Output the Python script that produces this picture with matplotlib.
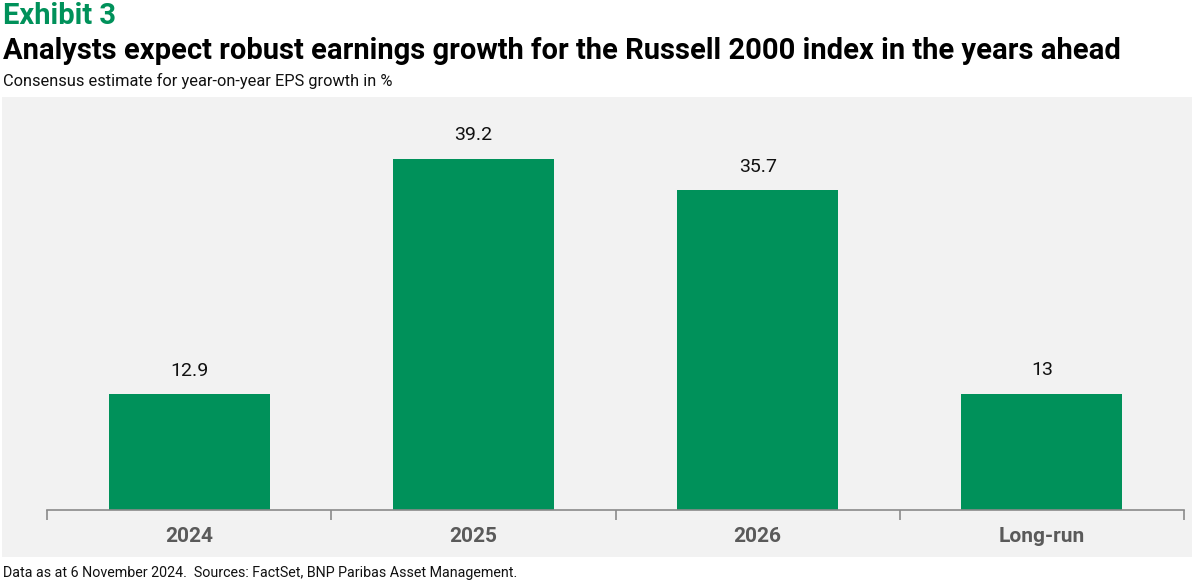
import matplotlib
matplotlib.use("Agg")
import matplotlib.pyplot as plt
from matplotlib.patches import Rectangle

categories = ["2024", "2025", "2026", "Long-run"]
eps_growth = [12.9, 39.2, 35.7, 13.0]
value_labels = ["12.9", "39.2", "35.7", "13"]

GREEN = "#00915A"
PANEL = "#F2F2F2"
W, H = 1194, 586

fig = plt.figure(figsize=(W / 100, H / 100), dpi=100)
fig.patch.set_facecolor("white")

# grey panel behind the plot
fig.patches.append(Rectangle((2 / W, 1 - 557 / H), 1190 / W, 460 / H,
                             transform=fig.transFigure, facecolor=PANEL,
                             edgecolor="none", zorder=0))

ax = fig.add_axes([47 / W, 1 - 510 / H, 1137 / W, 413 / H])
ax.set_zorder(2)
ax.set_facecolor("none")
x = list(range(len(categories)))
bars = ax.bar(x, eps_growth, width=0.567, color=GREEN, zorder=2)
for b, lab in zip(bars, value_labels):
    ax.text(b.get_x() + b.get_width() / 2, b.get_height() + 1.6, lab,
            ha="center", va="bottom", fontsize=14, color="#111111",
            family="Roboto")

ax.set_xlim(-0.5, 3.5)
ax.set_ylim(0, 46.1)
for s in ["top", "right", "left"]:
    ax.spines[s].set_visible(False)
ax.spines["bottom"].set_color("#8a8a8a")
ax.spines["bottom"].set_linewidth(1.2)
ax.set_yticks([])
ax.set_xticks([-0.5, 0.5, 1.5, 2.5, 3.5], minor=True)
ax.set_xticks(x)
ax.set_xticklabels(categories, fontsize=15, fontweight="bold",
                   color="#5a5a5a", family="Roboto")
ax.tick_params(axis="x", which="major", length=0, pad=12)
ax.tick_params(axis="x", which="minor", length=7, width=1.2,
               color="#8a8a8a")

fig.text(3 / W, 1 - 16 / H, "Exhibit 3", fontsize=21, fontweight="bold",
         color=GREEN, va="center", ha="left", family="Roboto")
fig.text(3 / W, 1 - 51 / H,
         "Analysts expect robust earnings growth for the Russell 2000 index in the years ahead",
         fontsize=21, fontweight="bold", color="black", va="center",
         ha="left", family="Roboto")
fig.text(3 / W, 1 - 81 / H, "Consensus estimate for year-on-year EPS growth in %",
         fontsize=11.8, color="#111111", va="center", ha="left", family="Roboto")
fig.text(3 / W, 1 - 573 / H,
         "Data as at 6 November 2024.  Sources: FactSet, BNP Paribas Asset Management.",
         fontsize=10.25, color="#111111", va="center", ha="left", family="Roboto")

fig.savefig("out.png", dpi=100, facecolor="white")
